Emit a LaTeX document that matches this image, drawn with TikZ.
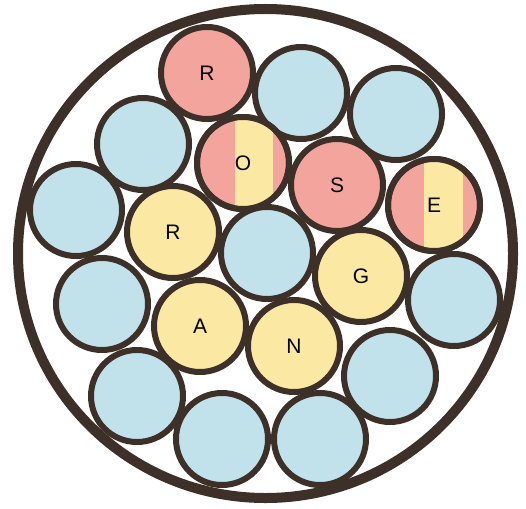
\documentclass[tikz,border=0pt]{standalone}
\usepackage{fontspec}
\setmainfont{Liberation Sans}
\usetikzlibrary{shapes.geometric}
\definecolor{ink}{HTML}{3D3029}
\definecolor{rosec}{HTML}{F3A49C}
\definecolor{bluec}{HTML}{C2E2EB}
\definecolor{yelc}{HTML}{FBE8A2}
\tikzset{
  ball/.style={circle, minimum size=92pt, inner sep=0pt, draw=ink, line width=6pt, font=\fontsize{21}{21}\selectfont},
  blueball/.style={ball, fill=bluec},
  roseball/.style={ball, fill=rosec},
  yelball/.style={ball, fill=yelc},
  ringline/.style={draw=ink, line width=10pt}
}
\begin{document}
\begin{tikzpicture}[x=1pt,y=-1pt]
\useasboundingbox (0,0) rectangle (526,508);
\fill[white] (0,0) rectangle (526,508);
\node[ringline, ellipse, minimum width=495pt, minimum height=489pt, inner sep=0pt] (tube) at (265.5,253.5) {};
% top rows
\node[roseball] (r1) at (207,73) {R};
\node[blueball] (b2) at (301,93) {};
\node[blueball] (b3) at (396,114) {};
\node[blueball] (b4) at (143,144) {};
% O split
\node[ball, fill=rosec] (o) at (243,163) {};
\begin{scope}
\clip (243,163) circle (46pt);
\fill[yelc] (235,110) rectangle (273,220);
\end{scope}
\node[ball] at (243,163) {O};
\node[roseball] (s) at (337,185) {S};
% E split
\node[ball, fill=rosec] (e) at (434,205) {};
\begin{scope}
\clip (434,205) circle (46pt);
\fill[yelc] (424,150) rectangle (463,260);
\end{scope}
\node[ball] at (434,205) {E};
\node[blueball] (b8) at (76,210) {};
\node[yelball] (r2) at (173,232) {R};
\node[blueball] (b10) at (267,253) {};
\node[yelball] (g) at (361,276) {G};
\node[blueball] (b12) at (454,300) {};
\node[blueball] (b13) at (102,304) {};
\node[yelball] (a) at (200,326) {A};
\node[yelball] (n) at (294,346) {N};
\node[blueball] (b16) at (390,376) {};
\node[blueball] (b17) at (137,396) {};
\node[blueball] (b18) at (222,439) {};
\node[blueball] (b19) at (320,439) {};
\end{tikzpicture}
\end{document}
